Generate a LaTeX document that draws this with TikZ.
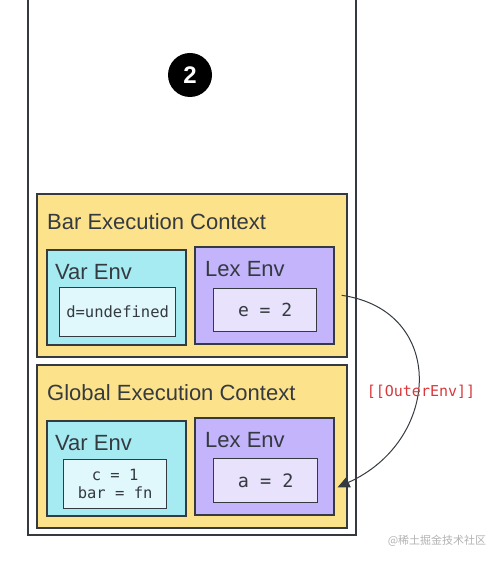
\documentclass[tikz,border=0pt]{standalone}
\usepackage{fontspec}
\setsansfont{Liberation Sans}
\setmonofont{DejaVu Sans Mono}
\newfontfamily\cjkfont{Noto Sans CJK SC}
\usetikzlibrary{positioning,arrows.meta}
\definecolor{ink}{HTML}{343A40}
\definecolor{ecyellow}{HTML}{FDE28C}
\definecolor{varcyan}{HTML}{A6EBF2}
\definecolor{varlight}{HTML}{E0F8FB}
\definecolor{lexpurple}{HTML}{C3B4FB}
\definecolor{lexlight}{HTML}{E8E2FC}
\definecolor{outerred}{HTML}{D9393B}
\tikzset{
  box/.style={draw=ink,line width=1.6pt,anchor=north west,inner sep=0pt},
  ecbox/.style={box,fill=ecyellow,minimum width=310pt,minimum height=163pt},
  varbox/.style={box,fill=varcyan,minimum width=139pt,minimum height=95pt},
  lexbox/.style={box,fill=lexpurple,minimum width=139pt,minimum height=97pt},
  valbox/.style={box,line width=1.3pt,align=center,text=ink,font=\ttfamily\fontsize{15.5}{18}\selectfont},
  title/.style={anchor=west,inner sep=0pt,text=ink,font=\sffamily\fontsize{22}{22}\selectfont},
}
\begin{document}
\begin{tikzpicture}[x=1pt,y=-1pt,>={Triangle[length=12pt,width=11pt]}]
\useasboundingbox (0,0) rectangle (498,561);
% call stack
\draw[ink,line width=1.8pt] (28,0) -- (28,535) -- (356,535) -- (356,0);
\node[circle,fill=black,minimum size=44pt,inner sep=0pt,text=white,font=\sffamily\bfseries\fontsize{24}{24}\selectfont] (stepno) at (190,75) {2};
% execution contexts
\foreach \n/\y/\t in {bar/193/Bar,glob/364/Global}{
  \node[ecbox] (ec\n) at (36,\y) {};
  \node[title] (title\n) at (47,\y+29) {\t\ Execution Context};
  \node[varbox,below right=56pt and 10pt of ec\n.north west] (var\n) {};
  \node[title] (varlbl\n) at ([xshift=9pt,yshift=-23pt]var\n.north west) {Var Env};
  \node[lexbox,below right=53pt and 158pt of ec\n.north west] (lex\n) {};
  \node[title] (lexlbl\n) at ([xshift=11pt,yshift=-23pt]lex\n.north west) {Lex Env};
}
% values
\node[valbox,fill=varlight,minimum width=116pt,minimum height=49pt,below right=38pt and 13pt of varbar.north west] (valbarvar) {d=undefined};
\node[valbox,fill=lexlight,minimum width=103pt,minimum height=43pt,below right=42pt and 19pt of lexbar.north west,font=\ttfamily\fontsize{18}{18}\selectfont] (valbarlex) {e = 2};
\node[valbox,fill=varlight,minimum width=103pt,minimum height=49pt,below right=39pt and 17pt of varglob.north west] (valglobvar) {c = 1\\bar = fn};
\node[valbox,fill=lexlight,minimum width=104pt,minimum height=44pt,below right=41pt and 19pt of lexglob.north west,font=\ttfamily\fontsize{18.5}{18}\selectfont] (valgloblex) {a = 2};
% outer reference
\draw[->,ink,line width=1pt] ([xshift=7pt]lexbar.east) .. controls +(105,15) and +(104,-47) .. ([xshift=3pt,yshift=-21pt]lexglob.east);
\node[text=outerred,font=\ttfamily\fontsize{15}{15}\selectfont] (outerenv) at (421,392) {[[OuterEnv]]};
\node[text=black!30,font=\cjkfont\fontsize{11}{11}\selectfont] (mark) at (437,541) {@稀土掘金技术社区};
\end{tikzpicture}
\end{document}
